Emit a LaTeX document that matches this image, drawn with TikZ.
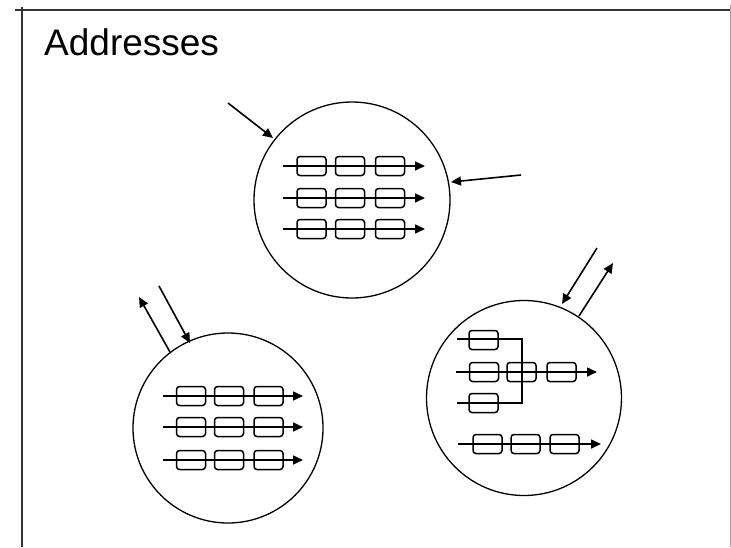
\documentclass[tikz,border=0pt]{standalone}
\usepackage{fontspec}
\setmainfont{Liberation Sans}
\usetikzlibrary{arrows.meta}
\begin{document}
\begin{tikzpicture}[x=1pt,y=-1pt,
  frame/.style={line width=2pt,draw=black!80},
  bubble/.style={circle,draw,line width=1.3pt,inner sep=0pt},
  cell/.style={draw,rectangle,rounded corners=3pt,line width=1.5pt,minimum width=29pt,minimum height=19pt,inner sep=0pt},
  flow/.style={line width=1.6pt,-{Triangle[length=10pt,width=9pt]}},
  plain/.style={line width=1.6pt},
  link/.style={line width=1.6pt,-{Triangle[length=10pt,width=9pt]}}]
\useasboundingbox (0,0) rectangle (731,547);
% frame
\draw[frame] (15,10) -- (731,10);
\draw[frame] (22,7) -- (22,547);
\draw[line width=1pt,draw=black!35] (730,5) -- (730,547);
% title
\node[anchor=base west,inner sep=0pt,font=\fontsize{37}{40}\selectfont] (title) at (44,55) {Addresses};
% circles
\node[bubble,minimum size=196pt] (c1) at (352,200) {};
\node[bubble,minimum size=190pt] (c2) at (228,428) {};
\node[bubble,minimum size=195pt] (c3) at (524,398) {};
% circle 1 rows
\foreach \r/\y in {1/166,2/198,3/229}{
  \coordinate (s1\r) at (283,\y);
  \coordinate (t1\r) at (425,\y);
  \foreach \k/\x in {1/311.5,2/350,3/390}{
    \node[cell] (b1\r\k) at (\x,\y) {};
  }
  \draw[flow] (s1\r) -- (t1\r);
}
% circle 2 rows
\foreach \r/\y in {1/396,2/427,3/460}{
  \coordinate (s2\r) at (163,\y);
  \coordinate (t2\r) at (303,\y);
  \foreach \k/\x in {1/191,2/229,3/268.5}{
    \node[cell] (b2\r\k) at (\x,\y) {};
  }
  \draw[flow] (s2\r) -- (t2\r);
}
% circle 3 contents
\node[cell] (m1) at (483.5,340) {};
\node[cell] (m2) at (484,372) {};
\node[cell] (m3) at (521.5,372) {};
\node[cell] (m4) at (561.5,372) {};
\node[cell] (m5) at (483.5,403) {};
\coordinate (ua) at (457,339);
\coordinate (ub) at (522,339);
\coordinate (la) at (457,403);
\coordinate (lb) at (522,403);
\coordinate (ma) at (456,372);
\coordinate (mt) at (597,372);
\draw[plain] (ua) -- (ub) -- (lb) -- (la);
\draw[flow] (ma) -- (mt);
\foreach \k/\x in {1/487.5,2/525.5,3/564.5}{
  \node[cell] (n\k) at (\x,444) {};
}
\coordinate (na) at (458,444);
\coordinate (nt) at (601,444);
\draw[flow] (na) -- (nt);
% arrows
\coordinate (a1s) at (228,103);
\coordinate (a1e) at (273,138);
\draw[link] (a1s) -- (a1e);
\coordinate (a2s) at (521,175);
\coordinate (a2e) at (451,182);
\draw[link] (a2s) -- (a2e);
\coordinate (a3s) at (170,352);
\coordinate (a3e) at (139,297);
\draw[link] (a3s) -- (a3e);
\coordinate (a4s) at (159,286);
\coordinate (a4e) at (190,343);
\draw[link] (a4s) -- (a4e);
\coordinate (a5s) at (597,248);
\coordinate (a5e) at (562,304);
\draw[link] (a5s) -- (a5e);
\coordinate (a6s) at (579,316);
\coordinate (a6e) at (613,263);
\draw[link] (a6s) -- (a6e);
\end{tikzpicture}
\end{document}
